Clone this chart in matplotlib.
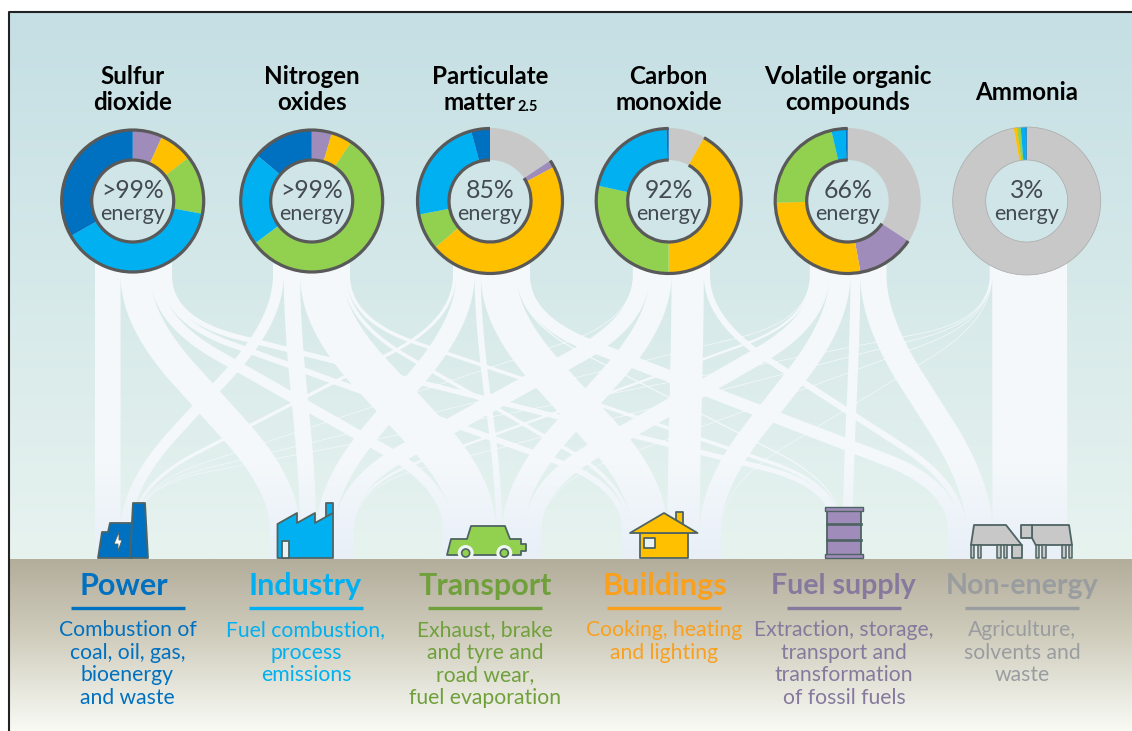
import numpy as np
import matplotlib
matplotlib.use('Agg')
import matplotlib.pyplot as plt
from matplotlib.path import Path
from matplotlib.patches import Arc, Circle, PathPatch, Polygon, Rectangle

plt.rcParams['font.family'] = ['Lato', 'DejaVu Sans']

W, H = 1132, 731

# share of each pollutant per sector (%)
sectors = ['Power', 'Industry', 'Transport', 'Buildings', 'Fuel supply', 'Non-energy']
so2 = [33.2, 38.9, 13.4, 7.7, 6.8, 0.0]
nox = [13.9, 21.3, 55.4, 4.8, 4.6, 0.0]
pm25 = [4.2, 23.8, 8.2, 46.6, 1.6, 15.6]
co = [0.5, 21.1, 28.4, 41.9, 0.0, 8.1]
voc = [0.5, 3.1, 21.6, 27.3, 12.8, 34.1]
nh3 = [0.3, 1.0, 0.8, 0.7, 0.0, 97.2]
shares = [so2, nox, pm25, co, voc, nh3]

centre_labels = ['>99%', '>99%', '85%', '92%', '66%', '3%']
sector_colors = ['#0070c0', '#00b0f0', '#92d050', '#ffc000', '#a08cba', '#c8c8c8']
title_colors = ['#0070c0', '#00b0f0', '#70a03c', '#f9a01e', '#857a9e', '#9a9da0']
descriptions = [
    'Combustion of\ncoal, oil, gas,\nbioenergy\nand waste',
    'Fuel combustion,\nprocess\nemissions',
    'Exhaust, brake\nand tyre and\nroad wear,\nfuel evaporation',
    'Cooking, heating\nand lighting',
    'Extraction, storage,\ntransport and\ntransformation\nof fossil fuels',
    'Agriculture,\nsolvents and\nwaste',
]

# layout, in reference pixels
ring_x = [132.7, 311.7, 490, 668.7, 847.7, 1026.7]
ring_r = [71.5, 71.5, 73, 73, 73, 74]
col_left = [95, 273, 453, 633, 810, 990]
sector_left = [95, 270, 443, 622, 833, 948]
sector_x = [127.5, 306, 485, 664, 844, 1022]
heading_x = [124, 305.5, 485, 664.5, 843, 1022]
heading_size = [22, 22, 22, 22, 20.6, 20.6]
px_per_pct = 0.77
OUTLINE = '#595959'
ICON_EDGE = '#4e6463'


def Y(py):
    return H - py


def hexrgb(c):
    return np.array(matplotlib.colors.to_rgb(c))


def gradient(stops, n=400):
    pos = [s[0] for s in stops]
    cols = np.array([hexrgb(s[1]) for s in stops])
    t = np.linspace(0, 1, n)
    return np.stack([np.interp(t, pos, cols[:, i]) for i in range(3)], axis=1)[:, None, :]


def ribbon_centre(x0, x1):
    y_top, y_c1, y_c2, y_bot = 225.0, 320.0, 486.0, 559.0
    if abs(x1 - x0) < 0.5:
        return np.array([[x0, y_top], [x1, y_bot]])
    c1 = np.array([x0, y_c1])
    c2 = np.array([x1, y_c2])
    d = (c2 - c1) / np.hypot(*(c2 - c1))
    run = min(72.0, 0.42 * np.hypot(*(c2 - c1)))
    t = np.linspace(0, 1, 40)[:, None]
    p0, p2 = np.array([x0, 275.0]), c1 + d * run
    bend1 = (1 - t)**2 * p0 + 2 * t * (1 - t) * c1 + t**2 * p2
    p0, p2 = c2 - d * run, np.array([x1, 531.0])
    bend2 = (1 - t)**2 * p0 + 2 * t * (1 - t) * c2 + t**2 * p2
    return np.vstack([[x0, y_top], bend1, bend2, [x1, y_bot]])


def ribbon_path(x0, x1, width):
    pts = ribbon_centre(x0, x1)
    if len(pts) == 2:
        pts = np.column_stack([np.linspace(x0, x1, 20), np.linspace(pts[0, 1], pts[1, 1], 20)])
    tang = np.gradient(pts, axis=0)
    tang /= np.hypot(tang[:, 0], tang[:, 1])[:, None]
    normal = np.column_stack([tang[:, 1], -tang[:, 0]])
    left = pts + normal * width / 2
    right = pts - normal * width / 2
    poly = np.vstack([left, right[::-1], left[:1]])
    poly[:, 1] = Y(poly[:, 1])
    return Path(poly, closed=True)


fig = plt.figure(figsize=(W / 100, H / 100), dpi=100, facecolor='white')
ax = fig.add_axes([0, 0, 1, 1])
ax.set_axis_off()

# sky and ground
ax.imshow(gradient([(0, '#c5dfe4'), (1, '#e7f3ef')]), extent=(8, W, Y(559), Y(12)), aspect='auto', zorder=0)
ax.imshow(gradient([(0, '#b3ad9b'), (0.45, '#d0cdbd'), (0.75, '#e6e6dc'), (1, '#f8faf4')]),
          extent=(8, W, Y(H), Y(559)), aspect='auto', zorder=0)
ax.plot([8.8, 8.8, W], [0, Y(12), Y(12)], color='#222222', lw=1.5, zorder=6)

# flows
paths = []
for i, row in enumerate(shares):
    x = col_left[i]
    for j, v in enumerate(row):
        if v <= 0:
            continue
        w = v * px_per_pct
        before = sum(shares[k][j] for k in range(i)) * px_per_pct
        x0 = x + w / 2
        x1 = sector_left[j] + before + w / 2
        paths.append(ribbon_path(x0, x1, max(w, 0.7)))
        x += w
im = ax.imshow(gradient([(0, '#f5f9fc'), (0.72, '#f4f8fb'), (1, '#e8eff7')]),
               extent=(0, W, Y(559), Y(225)), aspect='auto', zorder=1)
clip = PathPatch(Path.make_compound_path(*paths), transform=ax.transData, fc='none', ec='none')
ax.add_patch(clip)
im.set_clip_path(clip)

# rings
for i, row in enumerate(shares):
    cx, cy, r = ring_x[i], Y(201), ring_r[i]
    order = row[::-1]
    cols = sector_colors[::-1]
    ax.pie(order, colors=cols, center=(cx, cy), radius=r, startangle=90, counterclock=False,
           wedgeprops={'width': r - 41, 'linewidth': 0}, normalize=True)
    for w in ax.patches[-6:]:
        w.set_zorder(3)
    ax.add_patch(Circle((cx, cy), 41, fc='#cfe5e8', ec='none', zorder=2.9))
    energy = sum(row[:5]) / sum(row) * 360
    if i < 5:
        for rad in (r - 0.5, 41):
            ax.add_patch(Arc((cx, cy), 2 * rad, 2 * rad, theta1=90, theta2=90 + energy, color=OUTLINE, lw=2.3, zorder=4))
    else:
        ax.add_patch(Circle((cx, cy), r, fc='none', ec='#a9a9a9', lw=0.5, zorder=4))
        ax.add_patch(Circle((cx, cy), 41, fc='none', ec='#a9a9a9', lw=0.5, zorder=4))
    ax.text(cx, Y(191), centre_labels[i], fontsize=17.8, color='#444b50', ha='center', va='center', zorder=5)
    ax.text(cx, Y(214), 'energy', fontsize=15.5, color='#444b50', ha='center', va='center', zorder=5)

ax.set_xlim(0, W)
ax.set_ylim(0, H)
ax.set_aspect('auto')

# pollutant headings
tk = dict(fontsize=17.4, fontweight='bold', color='black', ha='center', va='center')
ax.text(132.7, Y(76), 'Sulfur', **tk)
ax.text(132.7, Y(102), 'dioxide', **tk)
ax.text(311.7, Y(76), 'Nitrogen', **tk)
ax.text(311.7, Y(102), 'oxides', **tk)
ax.text(490, Y(76), 'Particulate', **tk)
ax.text(479.5, Y(102), 'matter', **tk)
ax.text(517, Y(107), '2.5', fontsize=10.5, fontweight='bold', color='black', ha='left', va='center')
ax.text(668.7, Y(76), 'Carbon', **tk)
ax.text(668.7, Y(102), 'monoxide', **tk)
ax.text(847.7, Y(76), 'Volatile organic', **tk)
ax.text(847.7, Y(102), 'compounds', **tk)
ax.text(1026.7, Y(92), 'Ammonia', **tk)

# sector labels
for j, name in enumerate(sectors):
    x = sector_x[j]
    ax.text(heading_x[j], Y(586), name, fontsize=heading_size[j], fontweight='bold', color=title_colors[j], ha='center', va='center', zorder=5)
    ax.plot([x - 57, x + 57], [Y(608), Y(608)], color=title_colors[j], lw=2.4, solid_capstyle='butt', zorder=5)
    for k, line in enumerate(descriptions[j].split('\n')):
        ax.text(x, Y(630 + k * 22.7), line, fontsize=15.2, color=title_colors[j], ha='center', va='center', zorder=5)


def shape(pts, fc, lw=1.3):
    ax.add_patch(Polygon([(x, Y(y)) for x, y in pts], closed=True, fc=fc, ec=ICON_EDGE, lw=lw, joinstyle='round', zorder=5))


# power station
shape([(98, 558), (102, 532), (108, 532), (110, 523), (132, 523), (132, 558)], '#0070c0')
shape([(130, 558), (133, 503), (145, 503), (148, 558)], '#0070c0')
shape([(119, 532), (114, 544), (118, 544), (118, 551), (122, 540), (119, 540)], 'white', lw=0.6)
# factory
shape([(326, 517), (326, 503), (333, 503), (333, 513)], '#00b0f0')
shape([(277.5, 558), (277.5, 524), (297, 513), (297, 523), (315, 513), (315, 523), (333, 513), (333, 558)], '#00b0f0')
shape([(282, 558), (282, 541), (289, 541), (289, 558)], '#e8f2f2')
# car
shape([(447, 555), (451, 539), (467, 539), (471, 526), (505, 526), (510, 539), (521, 539), (521, 544), (526, 544), (526, 551), (521, 551), (521, 555)], '#92d050')
for cx in (465.7, 504.3):
    ax.add_patch(Circle((cx, Y(553)), 8, fc='#eef5f3', ec='none', zorder=5.5))
    ax.add_patch(Rectangle((cx - 9, Y(559) - 3), 18, 3, fc='#b3ad9b', ec='none', zorder=5.6))
    ax.add_patch(Circle((cx, Y(553)), 4, fc='#92d050', ec=ICON_EDGE, lw=1.2, zorder=6))
# house
shape([(676, 520), (676, 512), (683, 512), (683, 525)], '#ffc000')
shape([(640, 533), (688, 533), (688, 558), (640, 558)], '#ffc000')
shape([(630, 533), (664, 513), (697.5, 533)], '#ffc000')
shape([(644, 538), (655, 538), (655, 548), (644, 548)], '#e8f2f2')
# barrel
shape([(827, 510), (861, 510), (861, 556), (827, 556)], '#a08cba')
ax.add_patch(Rectangle((825, Y(511)), 38, 4, fc='#a08cba', ec=ICON_EDGE, lw=1.0, zorder=6))
ax.add_patch(Rectangle((825, Y(558)), 38, 4, fc='#a08cba', ec=ICON_EDGE, lw=1.0, zorder=6))
for y in (524, 540):
    ax.add_patch(Rectangle((826, Y(y + 1)), 36, 2, fc=ICON_EDGE, ec=ICON_EDGE, lw=0.5, zorder=6))
# cattle
shape([(971, 545), (974, 525), (1006, 525), (1021.7, 545)], '#c8c8c8')
shape([(1021.7, 545), (1021.7, 558), (1011.7, 558), (1011.7, 545)], '#c8c8c8')
shape([(1032, 525), (1069, 525), (1072, 545), (1035.7, 545), (1032, 538)], '#c8c8c8')
shape([(1021, 525), (1032, 525), (1032, 538), (1021, 538)], '#c8c8c8')
for x in (971, 977.7, 997.3, 1004, 1035.7, 1042.3, 1062.3, 1069):
    shape([(x, 545), (x + 3.3, 545), (x + 3.3, 558), (x, 558)], '#c8c8c8', lw=1.1)

fig.savefig('out.png', dpi=100)
